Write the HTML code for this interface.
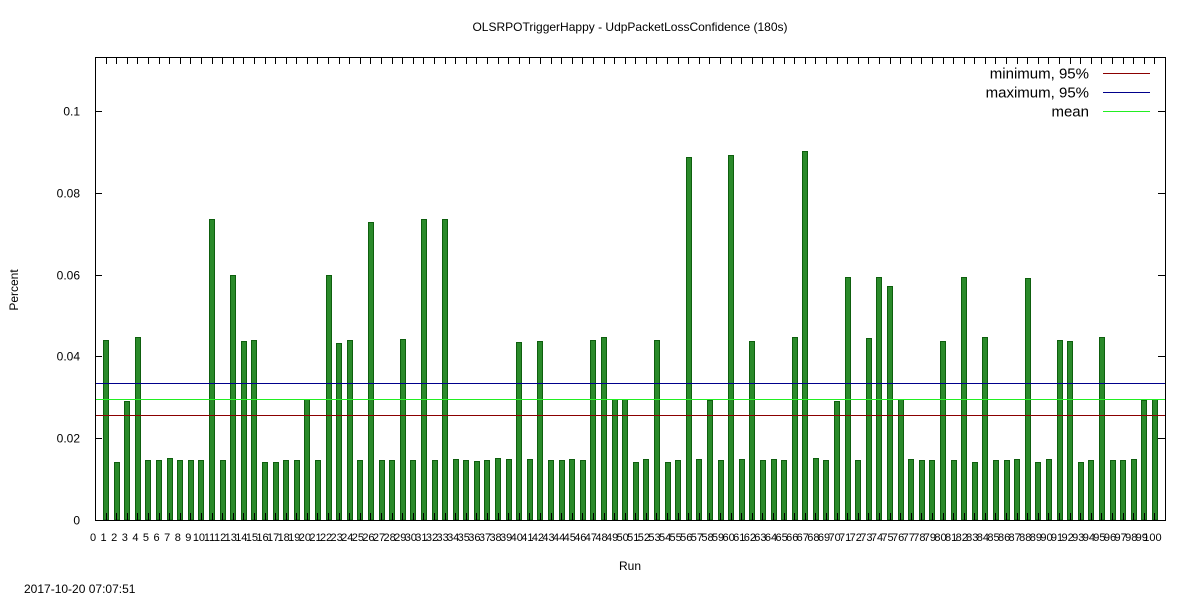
<!DOCTYPE html>
<html><head><meta charset="utf-8"><style>
body{margin:0;background:#fff}
svg{display:block;font-family:"Liberation Sans",sans-serif}
</style></head><body>
<svg id="c" width="1200" height="600" xmlns="http://www.w3.org/2000/svg"></svg>
<script>
const runs=[];for(let i=1;i<=100;i++)runs.push(i);
const values=[0.044,0.0143,0.029,0.0447,0.0147,0.0147,0.0152,0.0147,0.0147,0.0147,
0.0737,0.0147,0.060,0.0437,0.044,0.0143,0.0143,0.0147,0.0147,0.0297,
0.0147,0.0598,0.0432,0.044,0.0147,0.0728,0.0147,0.0147,0.0442,0.0147,
0.0735,0.0147,0.0735,0.015,0.0147,0.0145,0.0147,0.0152,0.015,0.0435,
0.015,0.0437,0.0147,0.0147,0.0149,0.0147,0.044,0.0447,0.0295,0.0297,
0.0143,0.015,0.044,0.0143,0.0147,0.0887,0.015,0.0293,0.0147,0.0892,
0.015,0.0437,0.0147,0.015,0.0147,0.0447,0.0903,0.0152,0.0147,0.0292,
0.0593,0.0147,0.0445,0.0593,0.0573,0.0297,0.015,0.0147,0.0147,0.0437,
0.0147,0.0593,0.0143,0.0447,0.0147,0.0147,0.015,0.0592,0.0143,0.015,
0.044,0.0437,0.0143,0.0147,0.0447,0.0147,0.0147,0.015,0.0293,0.0297];
const minimum95=0.0256, maximum95=0.0336, meanVal=0.0295;
const yTicks=[0,0.02,0.04,0.06,0.08,0.1];
const yTickLabels=["0","0.02","0.04","0.06","0.08","0.1"];
const L=95,R=1165,T=57,B=520,XMAX=101,YMAX=0.1132;
const X=v=>L+v*(R-L)/XMAX, Y=v=>B-v*(B-T)/YMAX;
const P=v=>Math.round(v)+0.5;
const s=document.getElementById('c'),NS='http://www.w3.org/2000/svg';
function mk(t,a,txt){const e=document.createElementNS(NS,t);for(const k in a)e.setAttribute(k,a[k]);if(txt!=null)e.textContent=txt;s.appendChild(e);return e;}
let e;
e=mk('text',{x:630,y:31,'font-size':12,'text-anchor':'middle'},'OLSRPOTriggerHappy - UdpPacketLossConfidence (180s)');


for(let i=0;i<runs.length;i++){
 const top=Math.round(Y(values[i]))+0.5;
 e=mk('rect',{x:Math.round(X(runs[i])-2.5)+0.5,y:top,width:5,height:B-top,fill:'#2a8a2a',stroke:'#0e5f0e','stroke-width':1});
 
 
}
function hline(v,c,n){const y=P(Y(v));e=mk('line',{x1:L,x2:R,y1:y,y2:y,stroke:c,'stroke-width':1});
 
 }
hline(minimum95,'#8b0000','minimum-line');
hline(maximum95,'#00008b','maximum-line');
hline(meanVal,'#22ee22','mean-line');
e=mk('rect',{x:L+0.5,y:T+0.5,width:R-L,height:B-T,fill:'none',stroke:'#000','stroke-width':1});


for(let i=0;i<=100;i++){
 const x=P(X(i));
 mk('line',{x1:x,x2:x,y1:B,y2:B-7,stroke:'#000'});
 mk('line',{x1:x,x2:x,y1:T,y2:T+7,stroke:'#000'});
 e=mk('text',{x:X(i)-2,y:541,'font-size':11,'text-anchor':'middle'},String(i));
 
 
}
for(let i=0;i<yTicks.length;i++){
 const y=P(Y(yTicks[i]));
 mk('line',{x1:L,x2:L+7,y1:y,y2:y,stroke:'#000'});
 mk('line',{x1:R,x2:R-7,y1:y,y2:y,stroke:'#000'});
 e=mk('text',{x:80,y:y+4,'font-size':12,'text-anchor':'end'},yTickLabels[i]);
 
 
}
const leg=[['minimum, 95%','#8b0000'],['maximum, 95%','#00008b'],['mean','#22ee22']];
leg.forEach((l,i)=>{const y=73.5+i*19;
 e=mk('text',{x:1089,y:y+5,'font-size':15,'text-anchor':'end'},l[0]);
 
 
 e=mk('line',{x1:1103,x2:1150,y1:y,y2:y,stroke:l[1]});
 
 
});
e=mk('text',{x:18,y:290,'font-size':12,'text-anchor':'middle',transform:'rotate(-90 18 290)'},'Percent');


e=mk('text',{x:630,y:570,'font-size':12,'text-anchor':'middle'},'Run');


e=mk('text',{x:24,y:593,'font-size':12},'2017-10-20 07:07:51');


</script>
</body></html>
